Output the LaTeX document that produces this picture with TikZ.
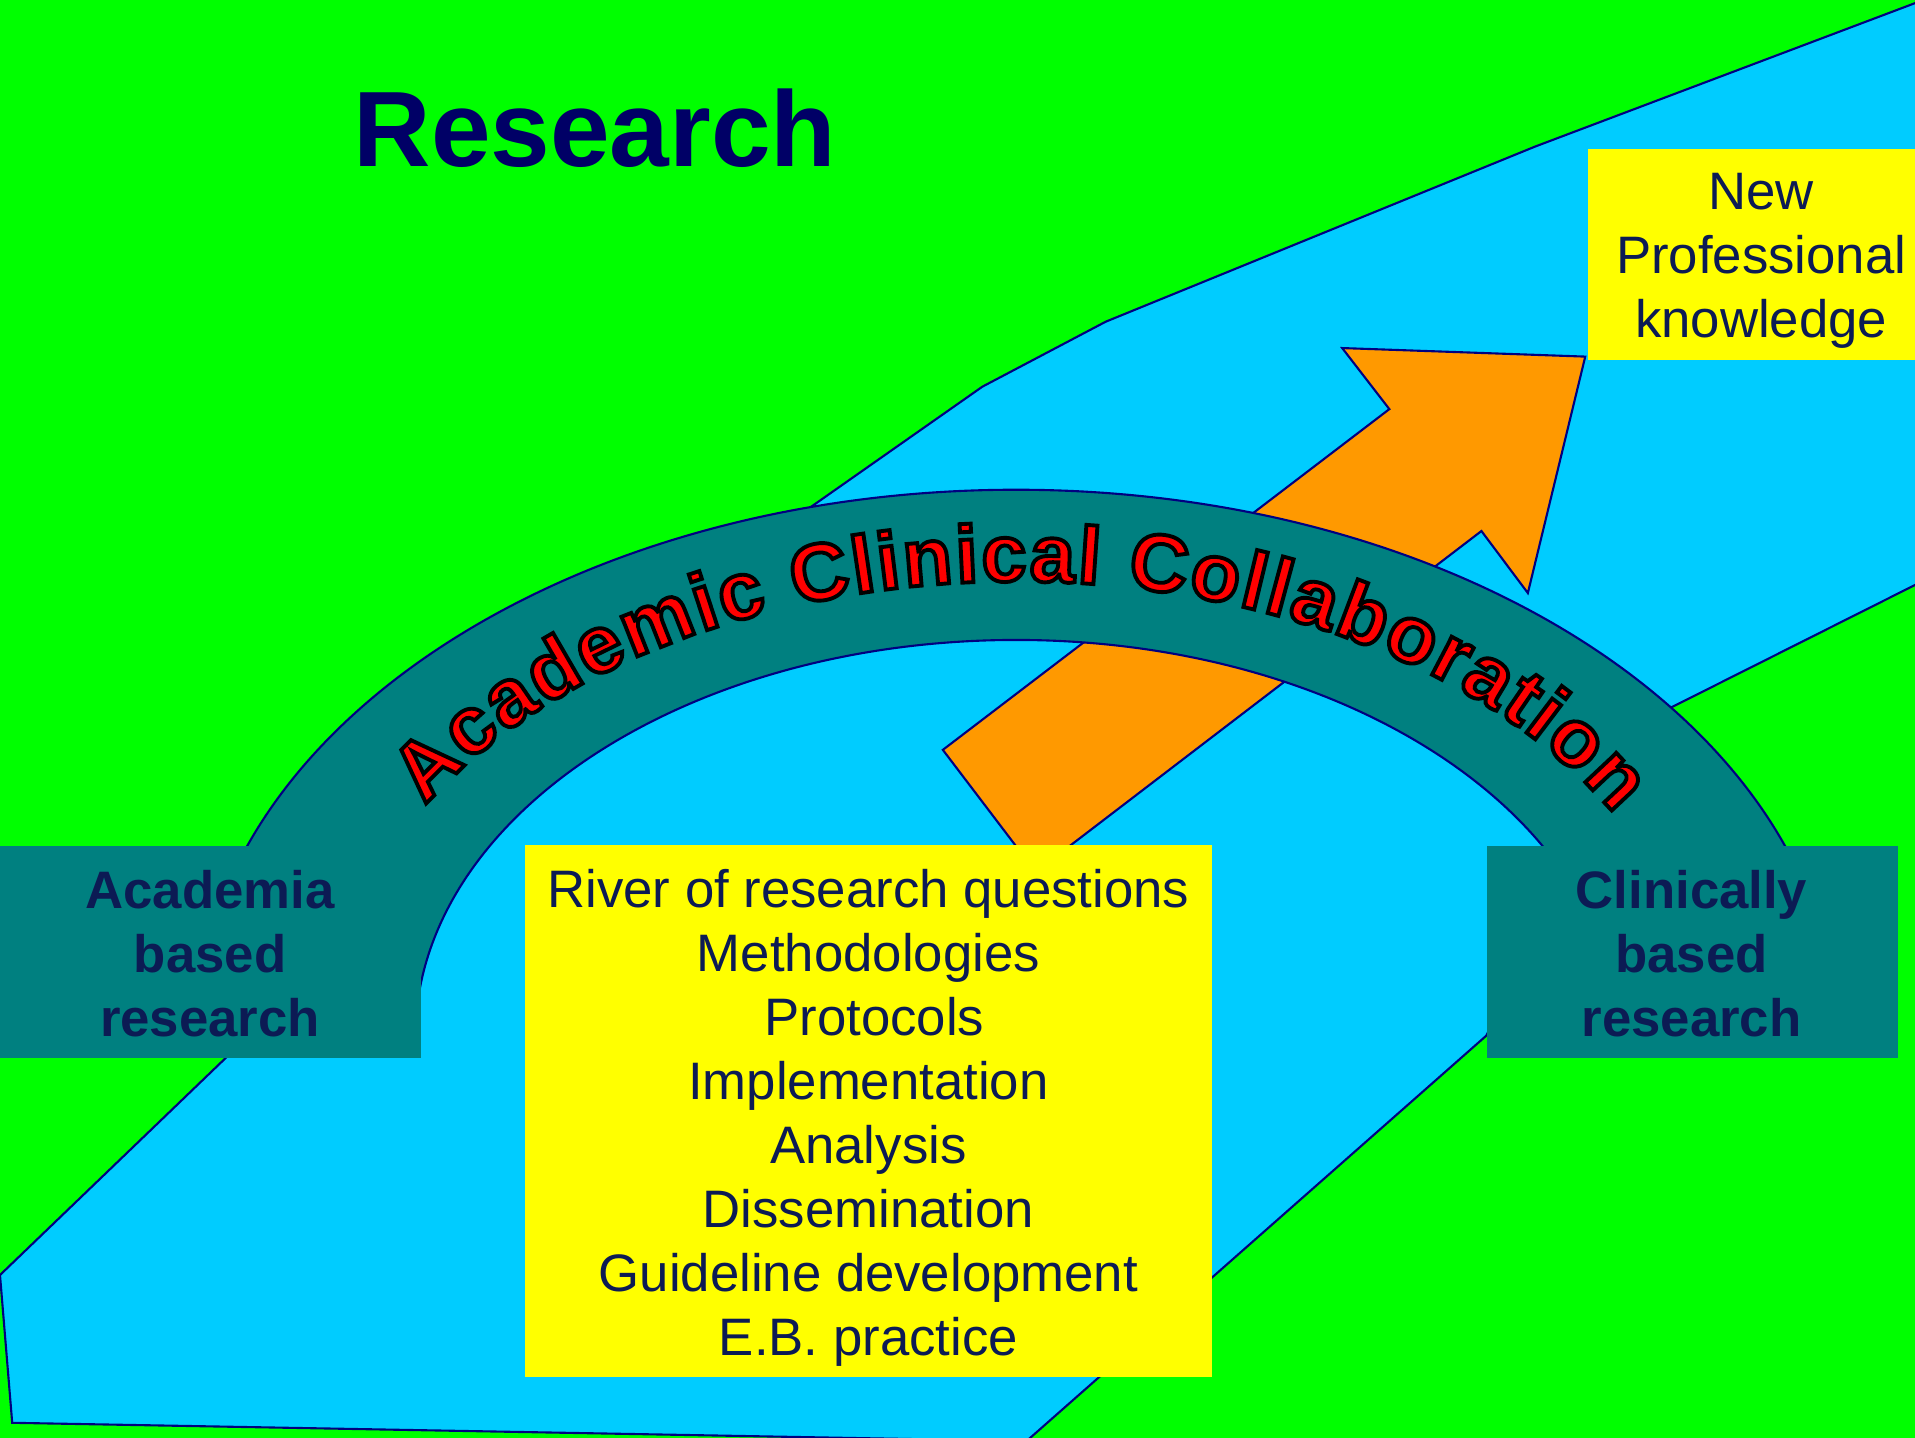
\documentclass[tikz,border=0pt]{standalone}
\usepackage{fontspec}
\setmainfont{Liberation Sans}
\usetikzlibrary{decorations.text}
\definecolor{bggreen}{RGB}{0,255,0}
\definecolor{river}{RGB}{0,204,255}
\definecolor{arcteal}{RGB}{0,128,128}
\definecolor{arrowor}{RGB}{255,153,0}
\definecolor{boxyellow}{RGB}{255,255,0}
\definecolor{edgenavy}{RGB}{0,0,128}
\definecolor{titlenavy}{RGB}{0,0,102}
\definecolor{boxtext}{RGB}{12,27,84}
\definecolor{arcred}{RGB}{255,0,0}
\newcommand\arcfont{\fontsize{23}{27}\selectfont\bfseries\color{arcred}\special{pdf:literal direct 2 Tr 1.1 w 0 0 0 RG}}
\begin{document}
\begin{tikzpicture}[x=0.12213mm, y=-0.12213mm,
  shapeedge/.style={draw=edgenavy, line width=0.6pt, line join=miter},
  boxshape/.style={rectangle, inner sep=0pt},
  infotext/.style={inner sep=0pt, align=center, text=boxtext,
    font=\fontsize{15}{18.2}\selectfont},
  arctext/.style={decorate, decoration={text along path, text align=fit to path,
    text={|\arcfont|Academic Clinical Collaboration}}}]
\useasboundingbox (0,0) rectangle (1568,1177.4);
\clip (0,0) rectangle (1568,1177.4);
% background
\fill[bggreen] (0,0) rectangle (1568,1177.4);
% river
\path[shapeedge, fill=river] (0,1044) -- (627,441) -- (804.4,316.6) -- (905.4,263.4)
  -- (1257,120) -- (1600,-9.5) -- (1600,463) -- (1568,479) -- (1345,591)
  -- (1217,848) -- (840.5,1180) -- (10,1165) -- cycle;
% arrow
\path[shapeedge, fill=arrowor] (772,614) -- (1137.6,335) -- (1099,285) -- (1298,292)
  -- (1251,485.6) -- (1213,434.8) -- (848,714) -- cycle;
% arc band
\path[shapeedge, fill=arcteal] (160,850) arc[start angle=-180, end angle=0, x radius=672, y radius=449]
  -- (1324,850) arc[start angle=0, end angle=-180, x radius=492, y radius=326] -- cycle;
% arc text (red fill, black outline)
\begin{scope}
\path[arctext] (348.3,659.6)
  arc[start angle=-149.4, end angle=-29.3, x radius=562, y radius=374];
\end{scope}
% title
\node[anchor=base west, inner sep=0pt, text=titlenavy,
  font=\fontsize{30.5}{36}\selectfont\bfseries] (title) at (289,136.5) {Research};
% boxes
\node[boxshape, fill=boxyellow, minimum width=68.64mm, minimum height=53.19mm] (steps) at (711,909.75) {};
\node[infotext] (stepstext) at (711,915.5) {River of research questions\\Methodologies\\\hspace*{1.2mm}Protocols\\Implementation\\Analysis\\Dissemination\\Guideline development\\E.B. practice};
\node[boxshape, fill=arcteal, minimum width=42.13mm, minimum height=21.19mm] (academia) at (172.5,779.75) {};
\node[infotext, font=\fontsize{15}{18.2}\selectfont\bfseries] (academiatext) at (172,781) {Academia\\based\\research};
\node[boxshape, fill=arcteal, minimum width=41.07mm, minimum height=21.19mm] (clinic) at (1385.6,779.75) {};
\node[infotext, font=\fontsize{15}{18.2}\selectfont\bfseries] (clinictext) at (1385,781) {Clinically\\based\\research};
\node[boxshape, fill=boxyellow, minimum width=34.69mm, minimum height=21.08mm] (newknow) at (1442,208.7) {};
\node[infotext] (newknowtext) at (1442,213.5) {New\\Professional\\knowledge};
\end{tikzpicture}
\end{document}
